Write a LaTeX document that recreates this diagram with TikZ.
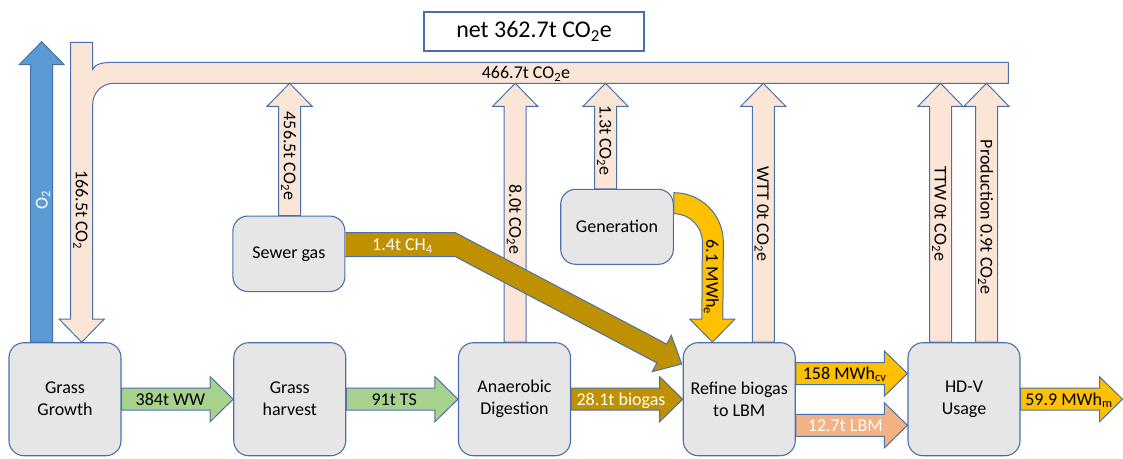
\documentclass[tikz,border=0pt]{standalone}
\usepackage{fontspec}
\setmainfont{Carlito}
\usetikzlibrary{calc}
\definecolor{edge}{HTML}{4A70AC}
\definecolor{boxgray}{HTML}{E7E6E6}
\definecolor{peach}{HTML}{FBE5D6}
\definecolor{o2blue}{HTML}{5B9BD5}
\definecolor{grassgreen}{HTML}{A9D18E}
\definecolor{darkgold}{HTML}{BF9000}
\definecolor{gold}{HTML}{FFC000}
\definecolor{lbmorange}{HTML}{F4B183}
% block arrow from #2 to #3 (tip)
\newcommand{\flowarrow}[3][]{%
  \coordinate (hb) at ($(#3)!\hdl!(#2)$);
  \draw[flow,#1] ($(#2)!\shw!90:(#3)$) -- ($(hb)!\shw!90:(#3)$) -- ($(hb)!\hdw!90:(#3)$) -- (#3)
    -- ($(hb)!\hdw!-90:(#3)$) -- ($(hb)!\shw!-90:(#3)$) -- ($(#2)!\shw!-90:(#3)$) -- cycle;}

\begin{document}
\begin{tikzpicture}[x=1pt,y=-1pt,
  box/.style={draw=edge,fill=boxgray,rounded corners=15pt,line width=1.1pt,minimum width=112pt,
    minimum height=113pt,align=center,inner sep=0pt,font=\fontsize{18}{22}\selectfont},
  flow/.style={draw=edge,line width=1pt,line join=miter},
  lbl/.style={inner sep=0pt,text height=11.7pt,text depth=0pt,font=\fontsize{18}{22}\selectfont},
  vlbl/.style={lbl,rotate=-90}]
  \useasboundingbox (0,0) rectangle (1123,458);
  \def\shw{11pt}   % half shaft
  \def\hdw{22.5pt} % half head
  \def\hdl{23pt}   % head length
  \def\lrow{399.2} % process row
  \foreach \i/\n/\t in {0/grow/{Grass\\Growth},1/harv/{Grass\\harvest},2/ad/{Anaerobic\\Digestion},
      3/refine/{Refine biogas\\to LBM},4/hdv/{HD-V\\Usage}} { \node[box] (\n) at (65+224.75*\i,\lrow) {\t}; }
  \node[box,minimum height=75.5pt] (sewer) at (288.9,253.8) {Sewer gas};
  \node[box,minimum width=112.6pt,minimum height=75pt] (gen) at (617,226.8) {Generation};
  \node[draw=edge,fill=white,line width=1.1pt,minimum width=220pt,minimum height=39pt,
    font=\fontsize{24}{28}\selectfont] (net) at (534,31.5) {net 362.7t CO\textsubscript{2}e};

  % CO2 return band
  \coordinate (ctip) at ($(grow.north)+(16.7,0)$);
  \draw[flow,fill=peach] (70.7,42.3) -- (92.7,42.3) -- (92.7,69.3) .. controls (95,64) and (102,62.3) .. (115,62.3)
    -- (1008.3,62.3) -- (1008.3,83.3) -- (113.7,83.3) arc[start angle=90,end angle=180,radius=21pt]
    -- ($(ctip)+(11,-23)$) -- ($(ctip)+(22.5,-23)$) -- (ctip) -- ($(ctip)+(-22.5,-23)$) -- ($(ctip)+(-11,-23)$) -- cycle;
  \node[lbl] (l466) at (526,73) {466.7t CO\textsubscript{2}e};
  \node[vlbl] (l166) at (81.7,210) {166.5t CO\textsubscript{2}};

  % O2
  \coordinate (bandt) at (0,41.7);
  \coordinate (bandb) at (0,83.3);
  \coordinate (o2s) at ($(grow.north)+(-23.3,0)$);
  \coordinate (o2t) at (o2s |- bandt);
  \flowarrow[fill=o2blue]{o2s}{o2t}
  \node[lbl,rotate=90,text=white] (lo2) at (41.7,200) {O\textsubscript{2}};

  % emissions up into the band
  \foreach \n/\dx/\nm in {sewer/0.7/csew,ad/0.7/cad,gen/-11.5/cgen,refine/24/cwtt,hdv/-23.5/cttw,hdv/22.5/cprod} {
    \coordinate (\nm s) at ($(\n.north)+(\dx,0)$);
    \coordinate (\nm t) at (\nm s |- bandb);
    \flowarrow[fill=peach]{\nm s}{\nm t}
  }
  \node[vlbl] (l456) at (289.6,156) {456.5t CO\textsubscript{2}e};
  \node[vlbl] (l8) at (515.2,219.7) {8.0t CO\textsubscript{2}e};
  \node[vlbl] (l13) at (605.5,140.4) {1.3t CO\textsubscript{2}e};
  \node[vlbl] (lwtt) at (763,214) {WTT 0t CO\textsubscript{2}e};
  \node[vlbl] (lttw) at (940.5,214) {TTW 0t CO\textsubscript{2}e};
  \node[vlbl] (lprod) at (986.5,217) {Production 0.9t CO\textsubscript{2}e};

  % sewer gas to refining
  \coordinate (chs) at ($(sewer.east)+(0,-9.1)$);
  \coordinate (chbend) at ($(chs)+(110,0)$);
  \coordinate (chtip) at ($(refine.west)+(-1,-35.2)$);
  \coordinate (chhb) at ($(chtip)!22.5pt!(chbend)$);
  \draw[flow,fill=darkgold] ($(chs)+(0,-12)$) -- ($(chbend)+(0,-12)$) -- ($(chhb)!10.6pt!90:(chtip)$)
    -- ($(chhb)!20.5pt!90:(chtip)$) -- (chtip) -- ($(chhb)!20.5pt!-90:(chtip)$) -- ($(chhb)!10.6pt!-90:(chtip)$)
    -- ($(chbend)+(0,12)$) -- ($(chs)+(0,12)$);
  \node[lbl,text=white] (lch4) at (402.5,244.7) {1.4t CH\textsubscript{4}};

  % electricity to refining
  \coordinate (gc) at ($(gen.east)+(0,15.4)$);
  \coordinate (gtip) at ($(refine.north)+(-26.9,0)$);
  \draw[flow,fill=gold] ($(gc)+(0,-49.5)$) arc[start angle=90,end angle=0,radius=49.5pt]
    -- ($(gtip)+(10.5,-23)$) -- ($(gtip)+(22.5,-23)$) -- (gtip) -- ($(gtip)+(-22.5,-23)$) -- ($(gtip)+(-10.5,-23)$)
    -- ($(gc)+(28.5,0)$) arc[start angle=0,end angle=90,radius=28.5pt] -- cycle;
  \node[vlbl] (l61) at (712.3,277) {6.1 MWh\textsubscript{e}};

  % process row
  \flowarrow[fill=grassgreen]{grow.east}{harv.west}
  \flowarrow[fill=grassgreen]{harv.east}{ad.west}
  \flowarrow[fill=darkgold]{ad.east}{refine.west}
  \coordinate (cvs) at ($(refine.east)+(0,-25.7)$);
  \coordinate (cvt) at ($(hdv.west)+(0,-25.7)$);
  \flowarrow[fill=gold]{cvs}{cvt}
  \coordinate (lbms) at ($(refine.east)+(0,26.1)$);
  \coordinate (lbmt) at ($(hdv.west)+(0,26.1)$);
  \flowarrow[fill=lbmorange]{lbms}{lbmt}
  \coordinate (out) at (1122.5,\lrow);
  \flowarrow[fill=gold]{hdv.east}{out}
  \node[lbl] (l384) at (170.4,\lrow) {384t WW};
  \node[lbl] (l91) at (394.2,\lrow) {91t TS};
  \node[lbl,text=white] (l281) at (621,\lrow) {28.1t biogas};
  \node[lbl] (l158) at (844.7,373.5) {158 MWh\textsubscript{cv}};
  \node[lbl,text=white] (l127) at (845.3,425.3) {12.7t LBM};
  \node[lbl] (l599) at (1069,\lrow) {59.9 MWh\textsubscript{m}};
\end{tikzpicture}
\end{document}
